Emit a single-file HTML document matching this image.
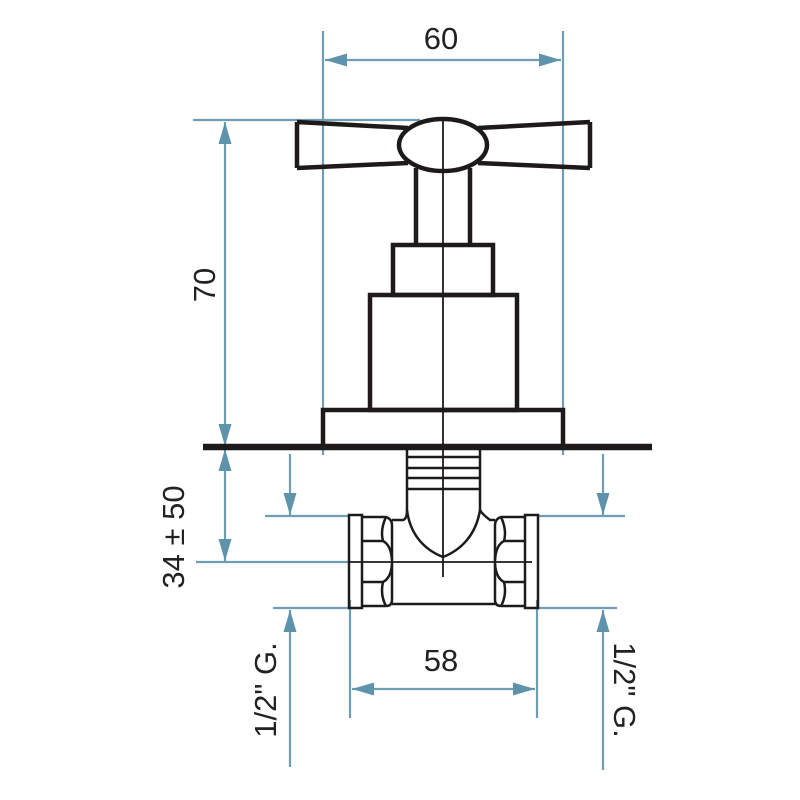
<!DOCTYPE html>
<html><head><meta charset="utf-8"><style>html,body{margin:0;padding:0;background:#fff}svg{display:block}</style></head>
<body>
<svg width="800" height="800" viewBox="0 0 800 800" xmlns="http://www.w3.org/2000/svg">
<defs>
<marker id="a" viewBox="0 0 22 13" refX="22" refY="6.5" markerWidth="22" markerHeight="13" markerUnits="userSpaceOnUse" orient="auto-start-reverse"><path d="M0,0 L22,6.5 L0,13 Z" fill="#5f93ab"/></marker>
</defs>
<g stroke="#6f9db3" stroke-width="2.2" fill="none">
<line x1="323" y1="31" x2="323" y2="455"/>
<line x1="563" y1="31" x2="563" y2="455"/>
<line x1="325" y1="60" x2="561" y2="60" marker-start="url(#a)" marker-end="url(#a)"/>
<line x1="193" y1="120" x2="420" y2="120"/>
<line x1="225" y1="122" x2="225" y2="446" marker-start="url(#a)" marker-end="url(#a)"/>
<line x1="225" y1="449" x2="225" y2="561" marker-start="url(#a)" marker-end="url(#a)"/>
<line x1="196" y1="562" x2="350" y2="562"/>
<line x1="265" y1="516" x2="350" y2="516"/>
<line x1="537" y1="516" x2="625" y2="516"/>
<line x1="290" y1="454" x2="290" y2="515" marker-end="url(#a)"/>
<line x1="603" y1="454" x2="603" y2="515" marker-end="url(#a)"/>
<line x1="273" y1="608" x2="350" y2="608"/>
<line x1="537" y1="608" x2="617" y2="608"/>
<line x1="290" y1="767" x2="290" y2="610" marker-end="url(#a)"/>
<line x1="603" y1="770" x2="603" y2="610" marker-end="url(#a)"/>
<line x1="350" y1="600" x2="350" y2="718"/>
<line x1="537" y1="600" x2="537" y2="718"/>
<line x1="352" y1="689" x2="535" y2="689" marker-start="url(#a)" marker-end="url(#a)"/>
</g>
<g font-family="Liberation Sans, sans-serif" font-size="31" fill="#222" text-anchor="middle">
<text x="441" y="49">60</text>
<text x="441" y="671">58</text>
<text transform="translate(215,285) rotate(-90)">70</text>
<text transform="translate(184,537) rotate(-90)">34 ± 50</text>
<text transform="translate(276,690) rotate(-90)">1/2" G.</text>
<text transform="translate(614,690) rotate(90)">1/2" G.</text>
</g>
<g stroke="#1e1a1a" fill="none" stroke-width="4.5" stroke-linejoin="miter">
<path d="M297,122 L408,128 M408,163 L297,168 Z M297,122 L297,168"/>
<path d="M590,122 L478,128 M478,163 L590,168 M590,122 L590,168"/>
<ellipse cx="443" cy="145" rx="44" ry="26"/>
<line x1="416" y1="168" x2="416" y2="245"/>
<line x1="470" y1="168" x2="470" y2="245"/>
<rect x="393" y="245" width="100" height="50"/>
<rect x="370" y="295" width="147" height="115"/>
<rect x="323" y="410" width="240" height="37"/>
<line x1="203" y1="447" x2="652" y2="447" stroke-width="6.5"/>
</g>
<g stroke="#1e1a1a" fill="none" stroke-width="2.5">
<line x1="443" y1="120" x2="443" y2="577" stroke-width="1.8"/>
<line x1="350" y1="562" x2="532" y2="562" stroke-width="1.8"/>
<line x1="407" y1="450" x2="407" y2="510"/>
<line x1="480" y1="450" x2="480" y2="510"/>
<line x1="407" y1="457" x2="480" y2="457"/>
<line x1="407" y1="468" x2="480" y2="468"/>
<line x1="407" y1="478" x2="480" y2="478"/>
<line x1="407" y1="489" x2="480" y2="489"/>
<path d="M407,510 C410,535 425,550 443,557 C461,550 476,535 480,510"/>
<path d="M392,520 L403,520 Q407,519 407,510"/>
<path d="M495,520 L490,520 Q482,514 480,510"/>
<rect x="349" y="515" width="13" height="93"/>
<rect x="525" y="515" width="13" height="93"/>
<path d="M362,517 L386,517 Q392,519 392,525 L392,600 Q392,606 386,606 L362,606"/>
<path d="M362,541 L383,541 M362,582 L383,582"/>
<path d="M386,517 Q380,530 383,541 Q391,545 392,560 M392,564 Q391,578 383,582 Q380,595 386,606"/>
<path d="M525,517 L501,517 Q495,519 495,525 L495,600 Q495,606 501,606 L525,606"/>
<path d="M525,541 L504,541 M525,582 L504,582"/>
<path d="M501,517 Q507,530 504,541 Q496,545 495,560 M495,564 Q496,578 504,582 Q507,595 501,606"/>
<line x1="392" y1="604" x2="495" y2="604"/>
</g>
</svg>
</body></html>
